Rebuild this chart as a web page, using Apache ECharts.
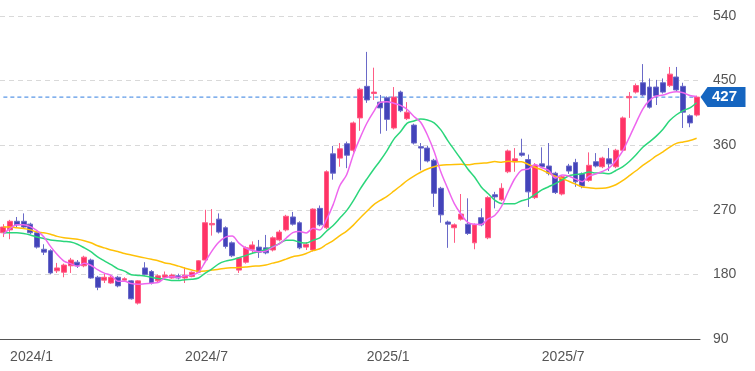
<!DOCTYPE html>
<html><head><meta charset="utf-8">
<script src="https://cdn.jsdelivr.net/npm/echarts@6/dist/echarts.min.js"></script>
<style>html,body{margin:0;padding:0;background:#fff}#c{width:755px;height:371px}</style>
</head><body><div id="c"></div>
<script>
// weekly OHLC (first week: 2023-12-25)
const opens = [238,242,254,254,250,238,215,213,185,183,
192,197,192,200,176,172,168,176,172,171,
140,189,184,171,176,175,178,175,177,183,
200,249,257,245,224,186,197,215,218,217,
214,228,242,260,252,218,214,272,245,348,
342,362,353,398,442,432,420,426,384,434,
397,388,358,356,339,300,253,245,257,250,
224,259,231,291,284,323,337,349,340,287,
334,331,321,292,331,336,320,311,337,330,
341,330,353,426,434,447,441,441,447,443,
455,442,401,402];
const closes = [246,254,249,246,238,218,211,182,189,193,
200,192,204,175,162,176,176,164,174,146,
171,180,168,178,179,179,175,179,183,199,
252,251,239,219,206,203,217,221,211,210,
231,239,261,250,217,222,271,249,323,321,
355,346,391,438,423,434,412,396,427,408,
406,363,356,338,293,263,250,249,264,237,
249,249,287,288,300,352,341,346,295,332,
330,321,294,316,324,309,303,332,331,342,
334,353,398,428,443,430,413,429,434,459,
437,406,391,427];
const highs = [250,256,260,265,252,240,222,215,196,195,
203,200,206,202,178,181,178,178,176,172,
172,197,186,180,184,181,181,190,184,200,
270,271,265,247,226,204,219,226,228,235,
233,242,263,267,254,225,272,276,325,359,
363,365,393,440,490,468,430,428,441,436,
420,390,363,359,341,302,255,251,292,286,
251,272,289,295,307,354,356,369,347,335,
357,363,323,318,334,341,322,350,349,344,
356,355,400,434,446,473,453,451,453,469,
469,447,403,429];
const lows = [232,229,246,244,236,216,207,180,182,176,
182,189,190,174,158,168,167,162,171,145,
138,178,166,169,174,174,173,168,176,182,
198,234,237,216,204,182,195,210,203,208,
212,226,240,248,215,214,212,247,243,312,
330,328,350,380,419,423,376,380,382,406,
395,361,325,336,274,252,217,224,255,235,
215,247,229,272,282,321,323,344,274,285,
328,318,292,290,320,302,300,309,329,328,
324,328,351,398,432,428,411,416,432,441,
435,384,385,400];
// moving averages
const ma5 = [236,244,249,249,246.6,241,232.4,219,207.6,198.6,
195,191.2,195.6,192.8,186.6,181.8,178.6,170.6,170.4,167.2,
166.2,167,167.8,168.6,175.2,176.8,175.8,178,179,183,
197.6,212.8,224.8,232,233.4,223.6,216.8,213.2,211.6,212.4,
218,222.4,230.4,238.2,239.6,237.8,244.2,241.8,256.4,277.2,
303.8,318.8,347.2,370.2,390.6,406.4,419.6,420.6,418.4,415.4,
409.8,400,392,374.2,351.2,322.6,300,278.6,263.8,252.6,
249.8,249.6,257.2,262,274.6,295.2,313.6,325.4,326.8,333.2,
328.8,324.8,314.4,318.6,317,312.8,309.2,316.8,319.8,323.4,
328.4,338.4,351.6,371,391.2,410.4,422.4,428.6,429.8,433,
434.4,433,429.2,427.8];
const ma13 = [238,238,238,237,235,232,230,228,227,226,
225,222,217.1,211.6,204.5,198.9,193.5,187.8,184.5,179.5,
178.6,177.9,176,174.3,173.3,171.4,171.4,172.7,173.2,175,
181.8,187.7,194.8,198.5,200.5,203.2,206.2,209.5,211.9,214.6,
218.6,222.9,227.7,227.5,224.9,223.6,227.6,230.9,240.2,248.2,
258.5,268.8,282.8,298.7,312.8,326.2,338.6,352.4,368.2,378.7,
390.8,393.8,396.5,395.2,391.2,381.3,366.8,353.5,340.4,326.9,
315.6,301.9,292.6,283.5,278.7,278.4,278.6,282.7,285.2,291.5,
297.7,302.1,306.5,311.6,317.4,319.1,320.2,322.7,321.1,321.2,
320.2,324.7,329.8,337.3,346.7,357.2,364.6,372.7,382.3,394.3,
402.4,408.2,411.9,419.1];
const ma26 = [246,246,245,244,242,239,238,236,233,231,
230,229,227,224,220,217,214,212,209,207,
205,203,201,199,196,194.2,191.5,188.6,186.1,184.3,
184.8,186.1,187.2,188.6,189.2,189.6,190.3,191.4,191.7,193,
195.7,198.1,201.3,204.7,206.3,209.2,213.1,215.7,221.7,227.2,
234,240.4,248.7,258.7,267.9,276.9,283.1,288.7,295.9,303.2,
310.8,317,322.3,326.8,330,332,332.8,333.2,333.3,332.8,
334,335,335.7,337.2,336.3,337.5,336.9,336.9,333.2,329.2,
325.6,321.2,316.7,313.6,309.7,305.8,301.9,300.7,299.7,299.9,
301.5,304.9,310.6,317.5,324.4,331.8,338.1,345,350.7,357.3,
362.5,364.6,366.5,369.7];
const lastPrice = 427;
const yMin = 90, yMax = 540, yStep = 90;

const weeks = [];
(function(){
  const t0 = Date.UTC(2023, 11, 25);
  for (let i = 0; i < closes.length; i++) {
    const t = new Date(t0 + i * 7 * 864e5);
    weeks.push(t.getUTCFullYear() + '/' + (t.getUTCMonth() + 1) + '/' + t.getUTCDate());
  }
})();
function isLabelWeek(i) {
  const p = weeks[i].split('/').map(Number);
  return (p[1] === 1 || p[1] === 7) && p[2] <= 7;
}
const ohlc = opens.map((o, i) => [o, closes[i], lows[i], highs[i]]);
const priceLine = closes.map(() => lastPrice);
const tagPath = 'path://M0,10 L7,0 L45,0 L45,20 L7,20 Z';
const font = 'Liberation Sans, Arial, sans-serif';

const chart = echarts.init(document.getElementById('c'));
chart.setOption({
  animation: false,
  backgroundColor: '#fff',
  grid: { left: 0, right: 55, top: 16, bottom: 32, containLabel: false },
  xAxis: {
    type: 'category', data: weeks, boundaryGap: true,
    axisLine: { lineStyle: { color: '#555', width: 1 } },
    axisTick: { show: false },
    splitLine: { show: false },
    axisLabel: {
      interval: (i) => isLabelWeek(i),
      formatter: (v) => { const p = v.split('/'); return p[0] + '/' + p[1]; },
      align: 'left', color: '#555', fontSize: 14, margin: 11, fontFamily: font
    }
  },
  yAxis: {
    type: 'value', position: 'right', min: yMin, max: yMax, interval: yStep,
    axisLine: { show: false }, axisTick: { show: false },
    axisLabel: { color: '#555', fontSize: 14, margin: 13, fontFamily: font },
    splitLine: { lineStyle: { color: '#d9d9d9', type: [5, 4], width: 1 } }
  },
  series: [
    {
      type: 'line', data: priceLine, symbol: 'none', silent: true, z: 1,
      lineStyle: { color: '#2f7de0', type: [4, 3], width: 1 }
    },
    {
      type: 'candlestick', data: ohlc, barWidth: '80%', z: 2,
      itemStyle: { color: '#ff3366', color0: '#4343ba', borderColor: '#ff5c85', borderColor0: '#6a6ac8', borderWidth: 1 }
    },
    { type: 'line', data: ma26, symbol: 'none', smooth: 0.3, lineStyle: { color: '#ffc107', width: 1.5 }, z: 3 },
    { type: 'line', data: ma13, symbol: 'none', smooth: 0.3, lineStyle: { color: '#2bd67b', width: 1.5 }, z: 3 },
    { type: 'line', data: ma5, symbol: 'none', smooth: 0.3, lineStyle: { color: '#ee66ee', width: 1.5 }, z: 3 },
    {
      type: 'line', data: [], symbol: 'none', z: 4,
      markLine: {
        silent: true,
        symbol: ['none', tagPath],
        symbolSize: [45, 20],
        symbolRotate: 0,
        symbolOffset: [0, [23, 0]],
        lineStyle: { color: '#1565c0', width: 0 },
        emphasis: { disabled: true },
        label: { show: true, position: 'end', formatter: '{c}', color: '#fff', fontSize: 15, fontWeight: 'bold', distance: 12, fontFamily: font },
        data: [{ yAxis: lastPrice }]
      }
    }
  ]
});
</script>
</body></html>
